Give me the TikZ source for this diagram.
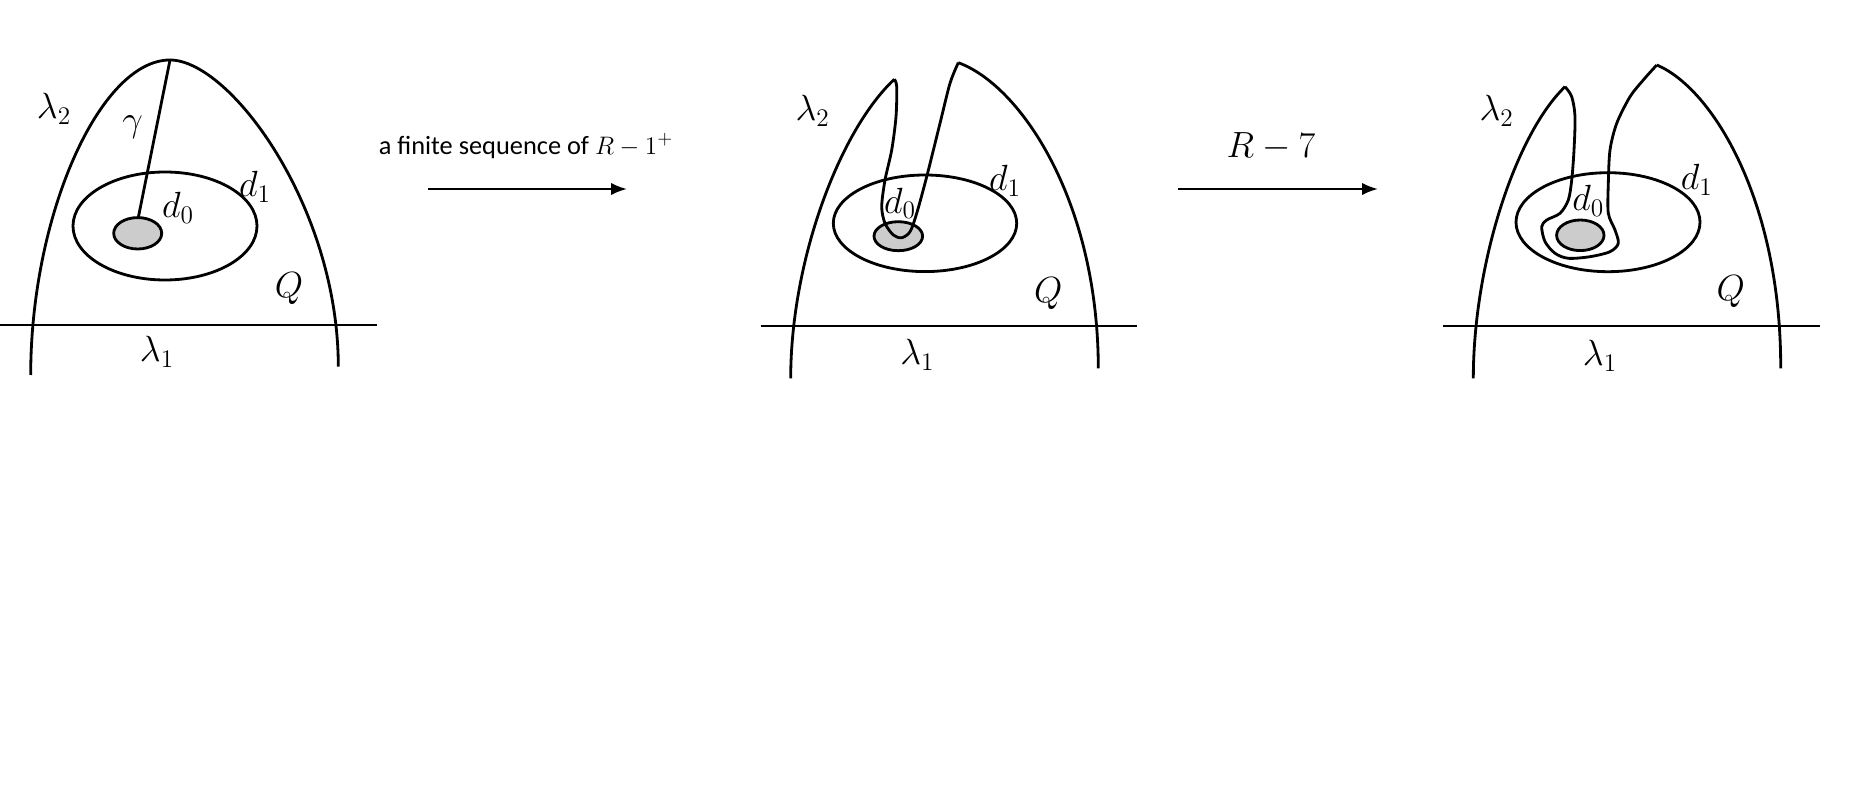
\documentclass[tikz,border=0pt]{standalone}
\usepackage{fontspec}
\newfontfamily\calfont{Carlito}
\usetikzlibrary{arrows.meta}

\begin{document}
\begin{tikzpicture}[x=0.02cm, y=-0.02cm, line width=1.6pt, line join=round,
    lbl/.style={font=\fontsize{20}{23}\selectfont, inner sep=0pt},
    disc/.style={draw, fill=black!20},
    move/.style={-{Latex[length=9pt,width=7pt]}, line width=1.3pt}]
    \useasboundingbox (0,0) rectangle (1851,810);

    % before
    \draw (0,325) -- (377,325);
    \coordinate (topA) at (170,60);
    \draw (30.7,375) .. controls (30.7,215) and (100,60) .. (topA)
        .. controls (230,60) and (338.3,206.7) .. (338.3,366.7);
    \draw (165,226) ellipse [x radius=92, y radius=54];
    \draw[disc] (137.7,233.3) ellipse [x radius=24, y radius=15.7];
    \coordinate (dzA) at (138.3,217.6);
    \draw (topA) -- (dzA);
    \node[lbl] (l2A) at (54,109) {$\lambda_2$};
    \node[lbl] (gA) at (132.7,127) {$\gamma$};
    \node[lbl] (d1A) at (255,187) {$d_1$};
    \node[lbl] (d0A) at (178,208) {$d_0$};
    \node[lbl] (qA) at (289,289) {$Q$};
    \node[lbl] (l1A) at (157,352) {$\lambda_1$};

    \coordinate (a1s) at (428,189);
    \coordinate (a1e) at (627,189);
    \draw[move] (a1s) -- (a1e);
    \node[font=\calfont\fontsize{15}{18}\selectfont, inner sep=0pt] (seq) at (526,146) {a finite sequence of $R-1^{+}$};

    % after R-1^+
    \draw (760.7,326) -- (1136.7,326);
    \draw (790.7,378.3) .. controls (790.7,260) and (840,130) .. (894.3,79.3);
    \draw (925,223.3) ellipse [x radius=91.7, y radius=48.3];
    \draw[disc] (898.3,236.2) ellipse [x radius=24.3, y radius=14.5];
    \draw plot[smooth] coordinates {(894.3,79.3) (896.7,86.7) (896,116.7) (891.7,150) (885,180) (881.7,206.7) (885,223.3)
        (893.3,235) (901.7,237.7) (910,231.7) (916.7,213.3) (926.7,176.7) (940,123.3) (950,83.3) (958.3,62.7)};
    \draw (958.3,62.7) .. controls (1020,85) and (1098,200) .. (1098.3,368.3);
    \node[lbl] (l2B) at (812.7,110.7) {$\lambda_2$};
    \node[lbl] (d1B) at (1005,180.7) {$d_1$};
    \node[lbl] (d0B) at (900,203.3) {$d_0$};
    \node[lbl] (qB) at (1048.3,293.3) {$Q$};
    \node[lbl] (l1B) at (917.3,355) {$\lambda_1$};

    \coordinate (a2s) at (1178,189);
    \coordinate (a2e) at (1378,189);
    \draw[move] (a2s) -- (a2e);
    \node[lbl] (rseven) at (1271,147) {$R-7$};

    % after R-7
    \draw (1443.3,326) -- (1820,326);
    \draw (1473.3,378.3) .. controls (1473.3,265) and (1515,135) .. (1565,86.7);
    \draw (1608,222.2) ellipse [x radius=92, y radius=49.5];
    \draw[disc] (1580.3,235.3) ellipse [x radius=23.7, y radius=15.3];
    \draw plot[smooth] coordinates {(1565,86.7) (1571.7,96.7) (1575,116.7) (1574,150) (1571.7,180) (1568.3,200)
        (1560,213.3) (1546.7,220) (1541.7,226.7) (1545,241.7) (1555,253.3) (1568.3,258.3) (1590,256.7) (1610,251.7)
        (1618.3,243.3) (1615,230) (1608.3,213.3) (1608.3,183.3) (1610,150) (1616.7,123.3) (1630,96.7) (1643.3,80)
        (1656.7,65)};
    \draw (1656.7,65) .. controls (1712,88) and (1781,200) .. (1780.7,368.3);
    \node[lbl] (l2C) at (1496.7,110.7) {$\lambda_2$};
    \node[lbl] (d1C) at (1696.7,180) {$d_1$};
    \node[lbl] (d0C) at (1588.3,200.7) {$d_0$};
    \node[lbl] (qC) at (1730.7,291.7) {$Q$};
    \node[lbl] (l1C) at (1600,355.7) {$\lambda_1$};
\end{tikzpicture}
\end{document}
